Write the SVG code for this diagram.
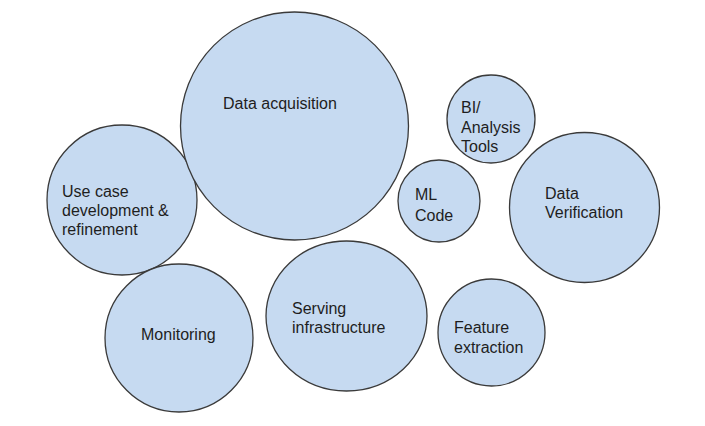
<svg xmlns="http://www.w3.org/2000/svg" width="705" height="426" viewBox="0 0 705 426">
<style>
.n{fill:#c6daf1;stroke:#3a3a3a;stroke-width:1.3}
text{font-family:"Liberation Sans",Arial,sans-serif;font-size:16px;fill:#1e1e1e}
</style>
<rect width="705" height="426" fill="#ffffff"/>
<g id="connectors"></g>
<g id="use-case">
<circle class="n" cx="122" cy="200" r="75"/>
<text x="62" y="197">Use case</text>
<text x="62" y="216">development &amp;</text>
<text x="62" y="235">refinement</text>
</g>
<g id="monitoring">
<circle class="n" cx="179" cy="338" r="74"/>
<text x="141" y="340">Monitoring</text>
</g>
<g id="data-acquisition">
<circle class="n" cx="294.5" cy="126" r="114"/>
<text x="223" y="109">Data acquisition</text>
</g>
<g id="serving">
<ellipse class="n" cx="346.5" cy="316" rx="80.5" ry="75"/>
<text x="292" y="314">Serving</text>
<text x="292" y="333">infrastructure</text>
</g>
<g id="ml-code">
<circle class="n" cx="439" cy="201" r="41"/>
<text x="415" y="200">ML</text>
<text x="415" y="221">Code</text>
</g>
<g id="bi-tools">
<circle class="n" cx="491" cy="119" r="44"/>
<text x="461" y="113">BI/</text>
<text x="461" y="133">Analysis</text>
<text x="461" y="152">Tools</text>
</g>
<g id="data-verification">
<circle class="n" cx="584.5" cy="207.5" r="75"/>
<text x="545" y="199">Data</text>
<text x="545" y="218">Verification</text>
</g>
<g id="feature-extraction">
<circle class="n" cx="491.5" cy="332.5" r="53.5"/>
<text x="454" y="333">Feature</text>
<text x="454" y="353">extraction</text>
</g>
</svg>
